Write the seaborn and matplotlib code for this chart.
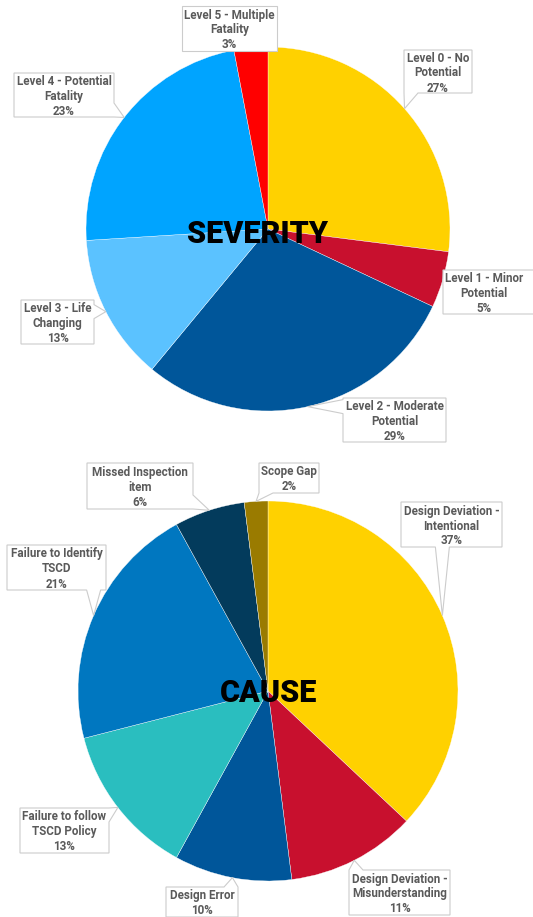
import numpy as np
import matplotlib
matplotlib.use('Agg')
import matplotlib.pyplot as plt
from matplotlib.patches import Polygon
import seaborn as sns

W, H = 533, 917

# --- data ---
severity_levels = ['Level 0 - No Potential', 'Level 1 - Minor Potential',
                   'Level 2 - Moderate Potential', 'Level 3 - Life Changing',
                   'Level 4 - Potential Fatality', 'Level 5 - Multiple Fatality']
severity_labels = ['Level 0 - No\nPotential', 'Level 1 - Minor\nPotential',
                   'Level 2 - Moderate\nPotential', 'Level 3 - Life\nChanging',
                   'Level 4 - Potential\nFatality', 'Level 5 - Multiple\nFatality']
severity_pct = [27, 5, 29, 13, 23, 3]
severity_colors = ['#FFD100', '#C8102E', '#00569A', '#5BC2FF', '#00A4FF', '#FF0000']

cause_categories = ['Design Deviation - Intentional', 'Design Deviation - Misunderstanding',
                    'Design Error', 'Failure to follow TSCD Policy',
                    'Failure to Identify TSCD', 'Missed Inspection item', 'Scope Gap']
cause_labels = ['Design Deviation -\nIntentional', 'Design Deviation -\nMisunderstanding',
                'Design Error', 'Failure to follow\nTSCD Policy',
                'Failure to Identify\nTSCD', 'Missed Inspection\nitem', 'Scope Gap']
cause_pct = [37, 11, 10, 13, 21, 6, 2]
cause_colors = ['#FFD100', '#C8102E', '#00569A', '#2ABEBF', '#0077C0', '#033B5C', '#9A7B00']

# --- layout (pixels, y measured from top) ---
sev_center, sev_radius = (268, 229), 182
cause_center, cause_radius = (268, 691), 190
sev_boxes = [(404, 50, 472, 93), (443, 270, 540, 314), (343, 398, 446, 442),
             (21, 300, 94, 344), (14, 73, 114, 117), (182, 6, 277, 51)]
sev_text_x = [None, 484, None, None, None, None]
cause_boxes = [(401, 502, 502, 547), (349, 870, 450, 915), (166, 887, 238, 917),
               (20, 808, 109, 853), (7, 545, 106, 590), (87, 463, 193, 509),
               (259, 463, 319, 493)]
cause_text_x = [None] * 7

sns.set_theme(style='white')
plt.rcParams['font.family'] = ['Roboto', 'DejaVu Sans']


def callout(ax, box, tip, hw=7):
    x0, y0, x1, y1 = box
    tx, ty = tip
    out = {'top': y0 - ty, 'bottom': ty - y1, 'left': x0 - tx, 'right': tx - x1}
    side = max(out, key=out.get)
    if out[side] <= 0:
        side = None
    pts = [(x0, y0)]
    if side == 'top':
        c = np.clip(tx, x0 + hw, x1 - hw)
        pts += [(c - hw, y0), (tx, ty), (c + hw, y0)]
    pts.append((x1, y0))
    if side == 'right':
        c = np.clip(ty, y0 + hw, y1 - hw)
        pts += [(x1, c - hw), (tx, ty), (x1, c + hw)]
    pts.append((x1, y1))
    if side == 'bottom':
        c = np.clip(tx, x0 + hw, x1 - hw)
        pts += [(c + hw, y1), (tx, ty), (c - hw, y1)]
    pts.append((x0, y1))
    if side == 'left':
        c = np.clip(ty, y0 + hw, y1 - hw)
        pts += [(x0, c + hw), (tx, ty), (x0, c - hw)]
    pts = [(px, H - py) for px, py in pts]
    ax.add_patch(Polygon(pts, closed=True, facecolor='white', edgecolor='#cccccc',
                         linewidth=0.8, zorder=3))


def draw_pie(ax, values, colors, labels, center, radius, boxes, text_x, title, title_x, title_base):
    cx, cy = center
    ax.pie(values, colors=sns.color_palette(colors), startangle=90, counterclock=False,
           center=(cx, H - cy), radius=radius,
           wedgeprops=dict(edgecolor='white', linewidth=0.25))
    vals = np.array(values, dtype=float)
    mid = (np.cumsum(vals) - vals / 2) / vals.sum()
    theta = np.deg2rad(90 - 360 * mid)
    for i, (lab, v) in enumerate(zip(labels, values)):
        tip = (cx + radius * np.cos(theta[i]), cy - radius * np.sin(theta[i]))
        box = boxes[i]
        callout(ax, box, tip)
        x = text_x[i] if text_x[i] is not None else (box[0] + box[2]) / 2
        y = (box[1] + box[3]) / 2 + 1.5
        ax.text(x, H - y, f'{lab}\n{v}%', ha='center', va='center', fontsize=8.4,
                fontweight='bold', color='#5a5a5a', linespacing=1.2, zorder=4)
    ax.text(title_x, H - title_base, title, ha='center', va='baseline', fontsize=22,
            fontweight='black', color='black', zorder=5)


fig = plt.figure(figsize=(W / 100, H / 100), dpi=100)
ax = fig.add_axes([0, 0, 1, 1])
draw_pie(ax, severity_pct, severity_colors, severity_labels, sev_center, sev_radius,
         sev_boxes, sev_text_x, 'SEVERITY', 257, 243)
draw_pie(ax, cause_pct, cause_colors, cause_labels, cause_center, cause_radius,
         cause_boxes, cause_text_x, 'CAUSE', 268.5, 702)
ax.set_xlim(0, W)
ax.set_ylim(0, H)
ax.set_aspect('auto')
ax.axis('off')
fig.savefig('out.png', dpi=100, facecolor='white')
